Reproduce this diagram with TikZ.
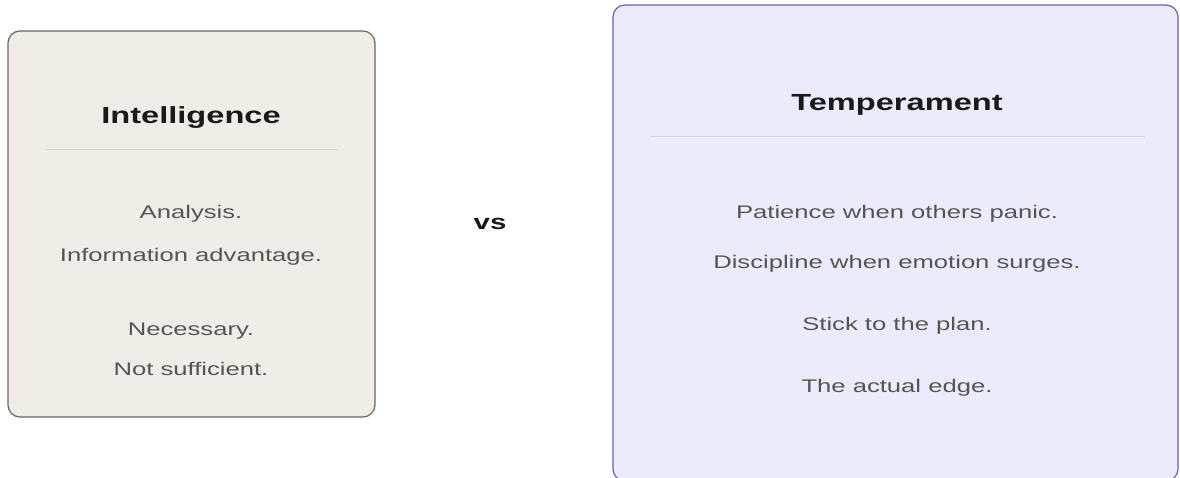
\documentclass[tikz,border=0pt]{standalone}
\usepackage{fontspec}
\setmainfont{Liberation Sans}[FakeStretch=1.4]
\usepackage{xcolor}
\usetikzlibrary{positioning}

\definecolor{leftfill}{HTML}{F0EDE8}
\definecolor{leftborder}{HTML}{666666}
\definecolor{rightfill}{HTML}{EBEBFC}
\definecolor{rightborder}{HTML}{6660B0}
\definecolor{rulegray}{HTML}{D9D5D2}
\definecolor{bodygray}{HTML}{555555}
\definecolor{titleblack}{HTML}{1A1A1A}

\begin{document}
\begin{tikzpicture}[
		x=1pt, y=-1pt,
		panel/.style={draw, line width=1.2pt, rounded corners=12pt, inner sep=0pt},
		heading/.style={font=\fontsize{23.3}{28}\selectfont\bfseries, text=titleblack},
		point/.style={font=\fontsize{18.3}{22}\selectfont, text=bodygray},
		divider/.style={rulegray, line width=0.8pt}
		]
		
		\useasboundingbox (0,0) rectangle (1180,477);
		\clip (0,0) rectangle (1180,477);
		
		% ==========================================
		% LEFT PANEL (Intelligence)
		% ==========================================
		\node[panel, draw=leftborder, fill=leftfill, minimum width=367pt, minimum height=386pt] (intel) at (191.5,224) {};
		
		\node[heading] (intelTitle) at (191,118) {Intelligence};
		\draw[divider] (45,149) -- (338,149);
		
		\node[point] (analysis) at (191,214) {Analysis.};
		\node[point] (info) at (191,257) {Information advantage.};
		\node[point] (necessary) at (191,331) {Necessary.};
		\node[point] (notsuff) at (191,369) {Not sufficient.};
		
		% Versus
		\node[font=\fontsize{21}{25}\selectfont\bfseries, text=titleblack] (vs) at (490,224) {vs};
		
		% ==========================================
		% RIGHT PANEL (Temperament)
		% ==========================================
		\node[panel, draw=rightborder, fill=rightfill, minimum width=565pt, minimum height=476pt] (temper) at (895.5,243) {};
		
		\node[heading] (temperTitle) at (897,105) {Temperament};
		\draw[divider] (650,136) -- (1145,136);
		
		\node[point] (patience) at (897,214) {Patience when others panic.};
		\node[point] (discipline) at (897,264) {Discipline when emotion surges.};
		\node[point] (stick) at (897,326) {Stick to the plan.};
		\node[point] (edge) at (897,388) {The actual edge.};
		
	\end{tikzpicture}
\end{document}
